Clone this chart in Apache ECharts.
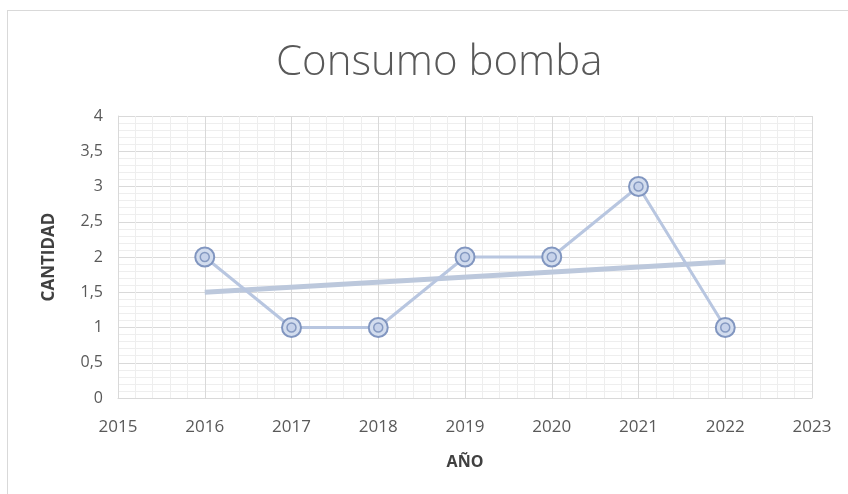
<!DOCTYPE html>
<html>
<head>
<meta charset="utf-8">
<style>
  html, body { margin: 0; padding: 0; background: #ffffff; }
  #frame { position: absolute; left: 7px; top: 10px; width: 860px; height: 500px; border: 1px solid #d9d9d9; box-sizing: border-box; }
  #chart { position: absolute; left: 0; top: 0; width: 848px; height: 494px; }
</style>
<script src="https://cdn.jsdelivr.net/npm/echarts@6/dist/echarts.min.js"></script>
</head>
<body>
<div id="frame"></div>
<div id="chart"></div>
<script>
// Pump consumption per year
var years = [2016, 2017, 2018, 2019, 2020, 2021, 2022];
var consumo = [2, 1, 1, 2, 2, 3, 1];
// Linear trend line endpoints (first and last year)
var trendYears = [2016, 2022];
var trendValues = [1.5, 1.93];

var chartTitle = 'Consumo bomba';
var xTitle = 'AÑO';
var yTitle = 'CANTIDAD';

function pairs(xs, ys) {
  return xs.map(function (x, i) { return [x, ys[i]]; });
}

var chart = echarts.init(document.getElementById('chart'), null, { renderer: 'canvas' });

var labelColor = '#595959';
var fontFam = '"Open Sans", "Liberation Sans", sans-serif';

chart.setOption({
  backgroundColor: 'transparent',
  animation: false,
  title: {
    text: chartTitle,
    left: 271,
    top: 37,
    textStyle: { fontFamily: fontFam, fontSize: 42, fontWeight: 300, color: labelColor }
  },
  grid: { left: 118, right: 36, top: 116, bottom: 96 },
  xAxis: {
    type: 'value',
    min: 2015,
    max: 2023,
    interval: 1,
    name: xTitle,
    nameLocation: 'middle',
    nameGap: 56,
    nameTextStyle: { fontFamily: fontFam, fontSize: 16, fontWeight: 'bold', color: '#404040' },
    axisLine: { show: true, lineStyle: { color: '#d9d9d9' } },
    axisTick: { show: false },
    axisLabel: { margin: 21, fontFamily: fontFam, fontSize: 17, color: labelColor, formatter: function (v) { return String(v); } },
    splitLine: { show: true, lineStyle: { color: '#d9d9d9', width: 1 } },
    minorTick: { show: false, splitNumber: 5 },
    minorSplitLine: { show: true, lineStyle: { color: '#eeeeee', width: 1 } }
  },
  yAxis: {
    type: 'value',
    min: 0,
    max: 4,
    interval: 0.5,
    name: yTitle,
    nameLocation: 'middle',
    nameGap: 60,
    nameRotate: 90,
    nameTextStyle: { fontFamily: fontFam, fontSize: 17, fontWeight: 'bold', color: '#404040' },
    axisLine: { show: true, lineStyle: { color: '#d9d9d9' } },
    axisTick: { show: false },
    axisLabel: { margin: 15, fontFamily: fontFam, fontSize: 16, color: labelColor, formatter: function (v) { return String(v).replace('.', ','); } },
    splitLine: { show: true, lineStyle: { color: '#d9d9d9', width: 1 } },
    minorTick: { show: false, splitNumber: 5 },
    minorSplitLine: { show: true, lineStyle: { color: '#eeeeee', width: 1 } }
  },
  series: [
    {
      name: 'Tendencia',
      type: 'line',
      data: pairs(trendYears, trendValues),
      symbol: 'none',
      lineStyle: { color: '#bcc8dc', width: 5 },
      z: 1
    },
    {
      name: chartTitle,
      type: 'line',
      data: pairs(years, consumo),
      symbol: 'circle',
      symbolSize: 19,
      lineStyle: { color: '#b8c6e0', width: 3 },
      itemStyle: { color: '#d3ddee', borderColor: '#8196c0', borderWidth: 2 },
      z: 2
    },
    {
      name: chartTitle + ' (centro)',
      type: 'scatter',
      data: pairs(years, consumo),
      symbol: 'circle',
      symbolSize: 9,
      itemStyle: { color: '#c3cfe8', borderColor: '#7389b6', borderWidth: 1.5 },
      z: 3
    }
  ]
});
</script>
</body>
</html>
